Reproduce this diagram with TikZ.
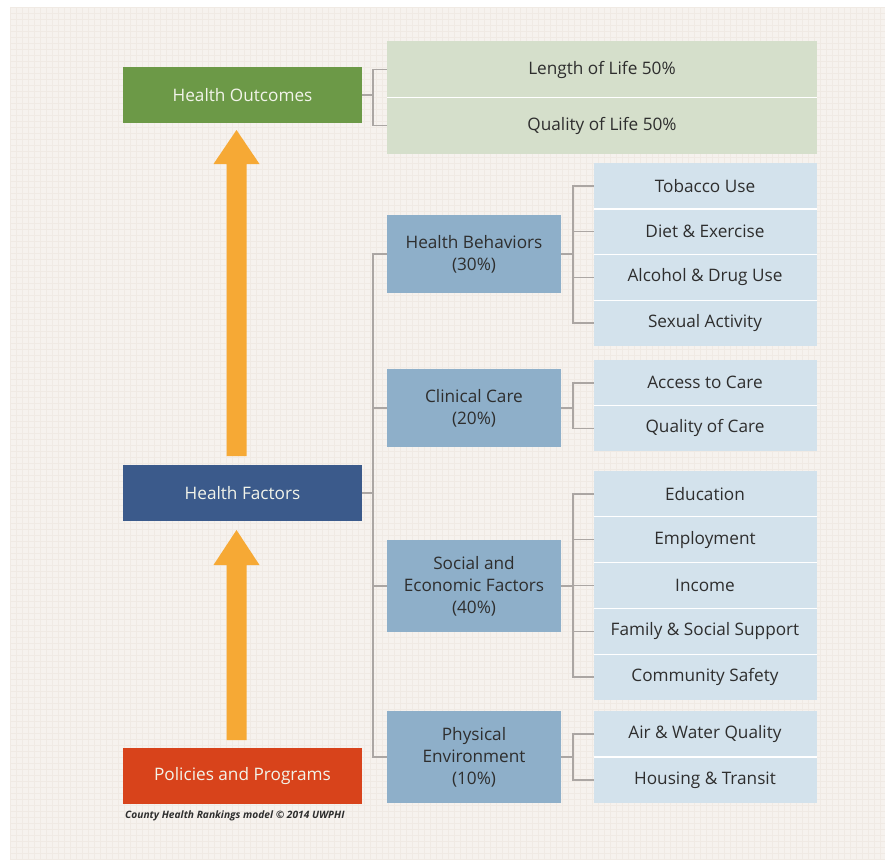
\documentclass[tikz,border=0pt]{standalone}
\usepackage{fontspec}
\setmainfont{Open Sans}
\usetikzlibrary{calc}
\definecolor{bgc}{HTML}{F6F2EE}
\definecolor{gridc}{HTML}{F0EAE4}
\definecolor{greenc}{HTML}{6C9947}
\definecolor{lgreenc}{HTML}{D5DFCB}
\definecolor{navyc}{HTML}{3B5A8B}
\definecolor{redc}{HTML}{D8431B}
\definecolor{midc}{HTML}{8EAFC9}
\definecolor{lbluec}{HTML}{D3E2EC}
\definecolor{arrowc}{HTML}{F6A935}
\definecolor{connc}{HTML}{ABA6A3}
\definecolor{txtc}{HTML}{2E2E2E}
\definecolor{wtxt}{HTML}{F2F4EA}
\begin{document}
\begin{tikzpicture}[x=1pt,y=-1pt,
  box/.style={inner sep=0pt, outer sep=0pt, align=center,
    font=\fontsize{17.2}{22}\selectfont},
  mainbox/.style={box, minimum width=239pt, minimum height=56pt, text=wtxt},
  midbox/.style={box, fill=midc, minimum width=174pt, text=txtc},
  cell/.style={box, fill=lbluec, minimum width=223pt, minimum height=45.8pt, text=txtc},
  gcell/.style={box, fill=lgreenc, minimum width=430pt, minimum height=56pt, text=txtc},
  sepline/.style={draw=white, line width=1.3pt},
  conn/.style={draw=connc, line width=1.4pt},
  bigarrow/.style={fill=arrowc}]
\useasboundingbox (0,0) rectangle (892,867);
\fill[bgc] (10,7) rectangle (885,860);
\begin{scope}
\clip (10,7) rectangle (885,860);
\foreach \i in {0,6,...,880} {\draw[gridc, line width=0.35pt] (10+\i,7) -- (10+\i,860);}
\foreach \i in {0,6,...,855} {\draw[gridc, line width=0.35pt] (10,7+\i) -- (885,7+\i);}
\end{scope}

% left column
\node[mainbox, fill=greenc] (ho) at (242.5,95) {Health Outcomes};
\node[mainbox, fill=navyc] (hf) at (242.5,493) {Health Factors};
\node[mainbox, fill=redc] (pp) at (242.5,776) {Policies and Programs};
\node[anchor=west, inner sep=0pt, text=txtc, font=\fontsize{10.2}{12}\selectfont\bfseries\itshape] (cap) at (125,816) {County Health Rankings model © 2014 UWPHI};

% outcomes
\node[gcell] (len) at (602,69.5) {Length of Life 50\%};
\node[gcell] (qol) at (602,125.5) {Quality of Life 50\%};
\draw[sepline] (len.south west) -- (len.south east);

% middle column
\node[midbox, minimum height=78pt] (hb) at (474,254) {Health Behaviors\\(30\%)};
\node[midbox, minimum height=78pt] (cc) at (474,408) {Clinical Care\\(20\%)};
\node[midbox, minimum height=92pt] (se) at (474,586) {Social and\\Economic Factors\\(40\%)};
\node[midbox, minimum height=92pt] (pe) at (474,757) {Physical\\Environment\\(10\%)};

% right column
\node[cell] (tob) at (705,186) {Tobacco Use};
\node[cell] (die) at (705,231.7) {Diet \& Exercise};
\node[cell] (alc) at (705,277.4) {Alcohol \& Drug Use};
\node[cell] (sex) at (705,323.1) {Sexual Activity};
\node[cell] (acc) at (705,382.8) {Access to Care};
\node[cell] (qoc) at (705,428.3) {Quality of Care};
\node[cell] (edu) at (705,493.9) {Education};
\node[cell] (emp) at (705,539.7) {Employment};
\node[cell] (inc) at (705,585.5) {Income};
\node[cell] (fam) at (705,631.3) {Family \& Social Support};
\node[cell] (com) at (705,677.1) {Community Safety};
\node[cell] (air) at (705,734) {Air \& Water Quality};
\node[cell] (hou) at (705,780) {Housing \& Transit};
\foreach \c in {tob,die,alc,acc,edu,emp,inc,fam,air}
  {\draw[sepline] (\c.south west) -- (\c.south east);}

% connectors: outcomes
\coordinate (jo) at ($(ho.east)+(11,0)$);
\draw[conn] (ho.east) -- (jo);
\draw[conn] (len.west) -| (jo) |- (qol.west);

% connectors: factors
\coordinate (jf) at ($(hf.east)+(11,0)$);
\draw[conn] (hf.east) -- (jf);
\draw[conn] (hb.west) -| (jf) |- (pe.west);
\draw[conn] (cc.west) -- (cc.west -| jf);
\draw[conn] (se.west) -- (se.west -| jf);

% connectors: behaviors
\coordinate (jb) at ($(hb.east)+(12,0)$);
\draw[conn] (hb.east) -- (jb);
\draw[conn] (tob.west) -| (jb) |- (sex.west);
\draw[conn] (die.west) -- (die.west -| jb);
\draw[conn] (alc.west) -- (alc.west -| jb);

% connectors: clinical
\coordinate (jc) at ($(cc.east)+(12,0)$);
\draw[conn] (cc.east) -- (jc);
\draw[conn] (acc.west) -| (jc) |- (qoc.west);

% connectors: social
\coordinate (js) at ($(se.east)+(12,0)$);
\draw[conn] (se.east) -- (js);
\draw[conn] (edu.west) -| (js) |- (com.west);
\draw[conn] (emp.west) -- (emp.west -| js);
\draw[conn] (inc.west) -- (inc.west -| js);
\draw[conn] (fam.west) -- (fam.west -| js);

% connectors: physical
\coordinate (jp) at ($(pe.east)+(12,0)$);
\draw[conn] (pe.east) -- (jp);
\draw[conn] (air.west) -| (jp) |- (hou.west);

% big arrows
\coordinate (a1s) at ($(hf.north)+(-6,-9)$);
\coordinate (a1t) at ($(ho.south)+(-6,7)$);
\fill[bigarrow] ($(a1s)+(-10,0)$) -- ($(a1t)+(-10,34)$) -- ($(a1t)+(-23,34)$) -- (a1t)
  -- ($(a1t)+(23,34)$) -- ($(a1t)+(10,34)$) -- ($(a1s)+(10,0)$) -- cycle;
\coordinate (a2s) at ($(pp.north)+(-6,-8)$);
\coordinate (a2t) at ($(hf.south)+(-6,9)$);
\fill[bigarrow] ($(a2s)+(-10,0)$) -- ($(a2t)+(-10,35)$) -- ($(a2t)+(-23,35)$) -- (a2t)
  -- ($(a2t)+(23,35)$) -- ($(a2t)+(10,35)$) -- ($(a2s)+(10,0)$) -- cycle;
\end{tikzpicture}
\end{document}
